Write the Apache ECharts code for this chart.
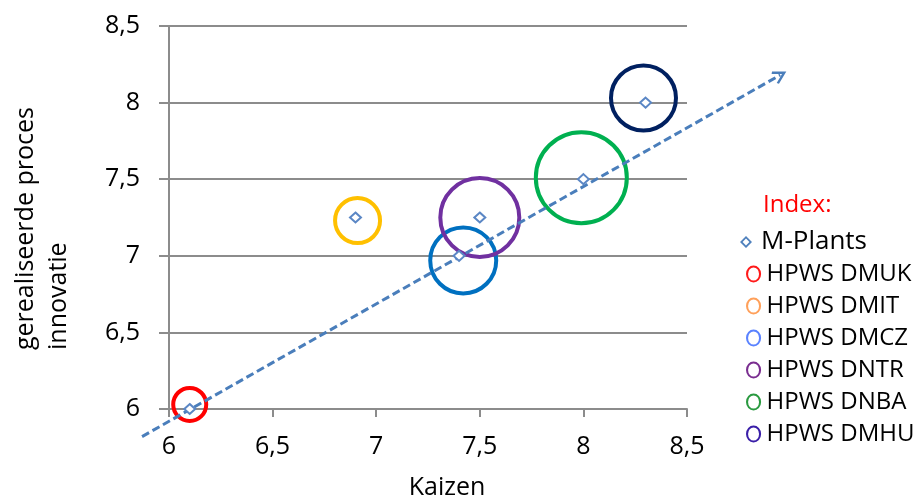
<!DOCTYPE html>
<html>
<head>
<meta charset="utf-8">
<script src="https://cdn.jsdelivr.net/npm/echarts@6/dist/echarts.min.js"></script>
<style>
  html, body { margin: 0; padding: 0; background: #fff; }
  #main { width: 917px; height: 501px; }
</style>
</head>
<body>
<div id="main"></div>
<script>
  // M-Plants: kaizen vs gerealiseerde proces innovatie
  var kaizen    = [6.1, 6.9, 7.4, 7.5, 8.0, 8.3];
  var innovatie = [6.0, 7.25, 7.0, 7.25, 7.5, 8.0];

  // HPWS bubbles (centre + score that sets the circle size)
  var hpwsNames     = ['HPWS DMUK', 'HPWS DMIT', 'HPWS DMCZ', 'HPWS DNTR', 'HPWS DNBA', 'HPWS DMHU'];
  var hpwsKaizen    = [6.1, 6.91, 7.42, 7.5, 7.99, 8.29];
  var hpwsInnovatie = [6.03, 7.23, 6.97, 7.25, 7.51, 8.03];
  var hpwsScore     = [3.3, 4.5, 6.6, 7.9, 9.1, 6.5];

  // trend arrow (start, end)
  var trendKaizen    = [5.87, 8.95];
  var trendInnovatie = [5.82, 8.18];

  var ticks      = [6, 6.5, 7, 7.5, 8, 8.5];
  var tickLabels = ['6', '6,5', '7', '7,5', '8', '8,5'];

  var circleColors = ['#FF0000', '#FFC000', '#0070C0', '#7030A0', '#00B050', '#002060'];
  var legendColors = ['#FF1A1A', '#FFA05A', '#5A82FF', '#7A2E90', '#2A9A40', '#3A1FA8'];

  var font = 'Open Sans';
  var gray = '#8C8C8C';
  var ringIcon = 'path://M8,0 A8,9 0 1,1 8,18 A8,9 0 1,1 8,0 Z M8,2 A5.8,7 0 1,0 8,16 A5.8,7 0 1,0 8,2 Z';
  var diamondIcon = 'path://M6,0 L12,6 L6,12 L0,6 Z M6,2.6 L2.6,6 L6,9.4 L9.4,6 Z';
  var chevron = 'path://M5,0 L10,8 L8.7,9 L5,3.2 L1.3,9 L0,8 Z';

  function tickText(v) {
    var i = ticks.indexOf(v);
    return i < 0 ? '' : tickLabels[i];
  }

  var myChart = echarts.init(document.getElementById('main'));

  var series = [];
  hpwsNames.forEach(function (name, i) {
    series.push({
      name: name,
      type: 'scatter',
      z: 2,
      symbol: 'circle',
      symbolSize: function (v) { return v[2] * 10; },
      itemStyle: { color: 'rgba(0,0,0,0)', borderColor: circleColors[i], borderWidth: 4, opacity: 1 },
      emphasis: { disabled: true },
      data: [[hpwsKaizen[i], hpwsInnovatie[i], hpwsScore[i]]]
    });
  });

  series.push({
    name: 'trend',
    type: 'lines',
    coordinateSystem: 'cartesian2d',
    z: 3,
    clip: false,
    symbol: ['none', chevron],
    symbolSize: 14,
    lineStyle: { color: '#4A7EBB', width: 3, type: [8, 4], opacity: 1, curveness: 0 },
    data: [{ coords: [[trendKaizen[0], trendInnovatie[0]], [trendKaizen[1], trendInnovatie[1]]] }]
  });

  series.push({
    name: 'M-Plants',
    type: 'scatter',
    z: 4,
    symbol: 'diamond',
    symbolSize: [11, 10],
    itemStyle: { color: '#ffffff', borderColor: '#5B87C5', borderWidth: 2, opacity: 1 },
    emphasis: { disabled: true },
    data: kaizen.map(function (x, i) { return [x, innovatie[i]]; })
  });

  var option = {
    animation: false,
    textStyle: { fontFamily: font },
    grid: { left: 169, right: 230, top: 26, bottom: 92, outerBoundsMode: 'none' },
    xAxis: {
      type: 'value',
      min: 6, max: 8.5, interval: 0.5,
      name: 'Kaizen',
      nameLocation: 'middle',
      nameGap: 66,
      nameTextStyle: { fontFamily: font, fontSize: 25, color: '#000', padding: [0, 0, 0, 38] },
      axisLine: { show: true, lineStyle: { color: gray, width: 2 } },
      axisTick: { show: true, length: 8, lineStyle: { color: gray, width: 2 } },
      splitLine: { show: false },
      axisLabel: { margin: 25, fontFamily: font, fontSize: 25, color: '#000', formatter: tickText }
    },
    yAxis: {
      type: 'value',
      min: 6, max: 8.5, interval: 0.5,
      axisLine: { show: true, lineStyle: { color: gray, width: 2 } },
      axisTick: { show: true, length: 10, lineStyle: { color: gray, width: 2 } },
      splitLine: { show: true, lineStyle: { color: gray, width: 2 } },
      axisLabel: { margin: 29, fontFamily: font, fontSize: 25, color: '#000', padding: [8, 0, 0, 0], formatter: tickText }
    },
    legend: [
      {
        orient: 'vertical',
        left: 740, top: 228,
        padding: 0,
        selectedMode: false,
        itemWidth: 20, itemHeight: 12,
        textStyle: { fontFamily: font, fontSize: 26, color: '#000', lineHeight: 28 },
        data: [{ name: 'M-Plants', icon: diamondIcon, itemStyle: { color: '#4F81BD', borderWidth: 0, opacity: 1 } }]
      },
      {
        orient: 'vertical',
        left: 746, top: 261,
        padding: 0,
        selectedMode: false,
        itemWidth: 16, itemHeight: 17,
        itemGap: 6,
        textStyle: { fontFamily: font, fontSize: 24, color: '#000', lineHeight: 26 },
        data: hpwsNames.map(function (n, i) {
          return { name: n, icon: ringIcon, itemStyle: { color: legendColors[i], borderWidth: 0, opacity: 1 } };
        })
      }
    ],
    graphic: [
      {
        type: 'text',
        x: 9, y: 350,
        rotation: Math.PI / 2,
        style: {
          text: 'gerealiseerde proces\ninnovatie',
          fontFamily: font, fontSize: 25, lineHeight: 33,
          fill: '#000', align: 'left', verticalAlign: 'top'
        }
      },
      {
        type: 'text',
        x: 763, y: 205,
        style: {
          text: 'Index:',
          fontFamily: font, fontSize: 24,
          fill: '#FF0000', align: 'left', verticalAlign: 'middle'
        }
      }
    ],
    series: series
  };

  myChart.setOption(option);
</script>
</body>
</html>
